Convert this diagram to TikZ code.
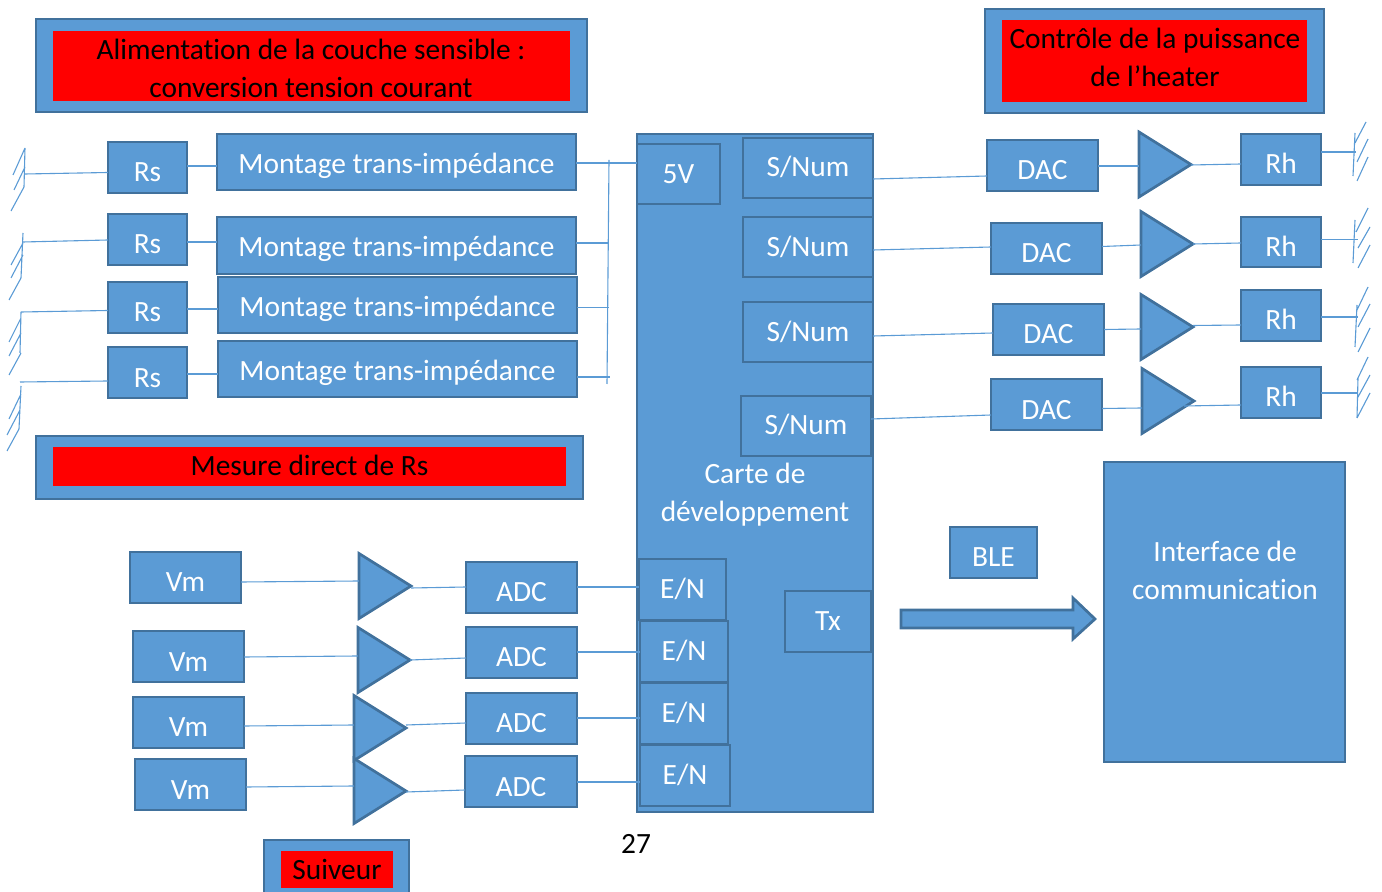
\documentclass[tikz,border=0pt]{standalone}
\usepackage{fontspec}
\setmainfont[Ligatures=CommonOff]{Carlito}
\usetikzlibrary{shapes.geometric,shapes.arrows}
\definecolor{bfill}{HTML}{5B9BD5}
\definecolor{bedge}{HTML}{41719C}
\tikzset{
  x=0.5pt,y=-0.5pt,
  box/.style={draw=bedge,fill=bfill,line width=1.35pt,inner sep=0pt,outer sep=0pt,text=white,font=\fontsize{14.7}{19}\selectfont},
  redbox/.style={fill=red,draw=none,inner sep=0pt,outer sep=0pt,text=black,font=\fontsize{14.7}{19}\selectfont},
  wire/.style={draw=bfill,line width=0.55pt},
  tri/.style={isosceles triangle,isosceles triangle stretches,shape border rotate=0,draw=bedge,fill=bfill,line width=1.35pt,inner sep=0pt,outer sep=0pt,anchor=west,minimum height=52pt/2,minimum width=65pt/2},
  label/.style={inner sep=0pt,outer sep=0pt,align=center,font=\fontsize{14.7}{19}\selectfont},
}
% name, x1,y1,x2,y2, text centre y, text, style
\newcommand\bx[8][box]{%
  \pgfmathsetmacro\cxx{(#3+#5)/2}\pgfmathsetmacro\cyy{(#4+#6)/2}%
  \pgfmathsetmacro\wdd{(#5-#3)*0.5}\pgfmathsetmacro\htt{(#6-#4)*0.5}%
  \pgfmathsetmacro\rse{(#7+9.5-(#4+#6)/2)*0.5}%
  \node[#1,minimum width=\wdd pt,minimum height=\htt pt] (#2) at (\cxx,\cyy) {\raisebox{-\rse pt}[0pt][0pt]{#8}};}
\newcommand\lnk[4]{\draw[wire] (#1.east |- 0,#2) -- (#3.west |- 0,#4);}
\newcommand\gnd[1]{\draw[wire] #1;}
\begin{document}
\begin{tikzpicture}
\useasboundingbox (0,0) rectangle (1382,892);
% banners
\bx{oa}{36}{19}{587}{112}{60}{}
\bx[redbox]{ra}{53}{31}{570}{101}{60}{}
\node[label] (ta) at (311,68.5) {Alimentation de la couche sensible :\\conversion tension courant};
\bx{ob}{985}{9}{1324}{113}{60}{}
\bx[redbox]{rb}{1002}{20}{1307}{102}{60}{}
\node[label] (tb) at (1155,57.5) {Contrôle de la puissance\\de l’heater};
\bx{oc}{36}{436}{583}{499}{466}{}
\bx[redbox]{rc}{53}{447}{566}{486}{466}{Mesure direct de Rs}
\bx{od}{264}{840}{409}{900}{870}{}
\bx[redbox]{rd}{281}{851}{393}{888}{870}{Suiveur}
% board
\bx{carte}{637}{134}{873}{812}{470}{}
\node[label,text=white] (tcarte) at (755,494.5) {Carte de\\développement};
\bx{fiveV}{637}{144}{720}{204}{174}{5V}
\bx{sa}{743}{138}{873}{198}{167}{S/Num}
\bx{sb}{743}{217}{873}{277}{247}{S/Num}
\bx{sc}{743}{302}{873}{362}{332}{S/Num}
\bx{sd}{741}{396}{871}{456}{425}{S/Num}
\bx{tx}{785}{591}{871}{652}{621}{Tx}
\bx{ea}{639}{559}{726}{620}{589}{E/N}
\bx{eb}{640}{621}{728}{682}{651}{E/N}
\bx{ec}{640}{683}{728}{744}{713}{E/N}
\bx{ed}{640}{745}{730}{806}{775}{E/N}
% Rs chain
\bx{rsa}{108}{142}{187}{193}{172}{Rs}
\bx{rsb}{108}{214}{187}{265}{244}{Rs}
\bx{rsc}{108}{282}{187}{333}{312}{Rs}
\bx{rsd}{108}{347}{187}{398}{378}{Rs}
\bx{ma}{217}{134}{576}{190}{164}{Montage trans-impédance}
\bx{mb}{217}{217}{576}{274}{247}{Montage trans-impédance}
\bx{mc}{218}{277}{577}{333}{307}{Montage trans-impédance}
\bx{md}{218}{341}{577}{397}{371}{Montage trans-impédance}
\lnk{rsa}{166}{ma}{166}
\lnk{rsb}{242}{mb}{242}
\lnk{rsc}{309}{mc}{309}
\lnk{rsd}{374}{md}{374}
\coordinate (bustop) at (609,160);
\coordinate (busbot) at (607,384);
\draw[wire] (bustop) -- (busbot);
\draw[wire] (ma.east |- 0,163) -- (fiveV.west |- 0,163);
\coordinate (busb) at (609,243);
\coordinate (busc) at (609,307.5);
\coordinate (busd) at (610,377);
\draw[wire] (mb.east |- busb) -- (busb);
\draw[wire] (mc.east |- busc) -- (busc);
\draw[wire] (md.east |- busd) -- (busd);
% left grounds
\coordinate (gla) at (25,174);
\coordinate (glb) at (23,242);
\coordinate (glc) at (21,312);
\coordinate (gld) at (20,382);
\draw[wire] (rsa.west |- 0,172.5) -- (gla);
\draw[wire] (rsb.west |- 0,240) -- (glb);
\draw[wire] (rsc.west |- 0,310.5) -- (glc);
\draw[wire] (rsd.west |- 0,381) -- (gld);
\gnd{(25,148)--(24,187) (25,148)--(13,175) (25,167)--(14,190) (24,187)--(11,211)}
\gnd{(23,233)--(21,278) (23,243)--(11,265) (23,255)--(11,278) (21,278)--(9,300)}
\gnd{(21,312)--(20,353) (21,318)--(9,342) (21,333)--(9,356) (21,353)--(9,375)}
\gnd{(21,386)--(19,429) (21,394)--(9,419) (20,410)--(7,435) (19,429)--(7,451)}
% DAC chain
\bx{da}{987}{140}{1098}{191}{170}{DAC}
\bx{db}{991}{223}{1102}{274}{253}{DAC}
\bx{dc}{993}{304}{1104}{355}{334}{DAC}
\bx{dd}{991}{379}{1102}{430}{410}{DAC}
\node[tri] (ta1) at (1139,164.5) {};
\node[tri] (ta2) at (1141,244) {};
\node[tri] (ta3) at (1141,327) {};
\node[tri] (ta4) at (1142,401) {};
\bx{ha}{1241}{134}{1321}{185}{164}{Rh}
\bx{hb}{1241}{217}{1321}{267}{247}{Rh}
\bx{hc}{1241}{290}{1321}{341}{320}{Rh}
\bx{hd}{1241}{367}{1321}{418}{397}{Rh}
\lnk{sa}{179}{da}{176}
\lnk{sb}{250}{db}{247}
\lnk{sc}{336}{dc}{333}
\lnk{sd}{419}{dd}{415}
\draw[wire] (da.east |- 0,166) -- (ta1.west |- 0,166);
\draw[wire] (db.east |- 0,246.5) -- (ta2.west |- 0,245);
\draw[wire] (dc.east |- 0,329.5) -- (ta3.west |- 0,329);
\draw[wire] (dd.east |- 0,408.5) -- (ta4.west |- 0,408);
\draw[wire] (ta1.apex |- 0,165) -- (ha.west |- 0,164);
\draw[wire] (ta2.apex |- 0,244) -- (hb.west |- 0,243);
\draw[wire] (ta3.apex |- 0,325.5) -- (hc.west |- 0,325);
\coordinate (tfour) at (1184,406);
\draw[wire] (tfour) -- (hd.west |- 0,405);
% right grounds
\coordinate (gra) at (1356,152);
\coordinate (grb) at (1358,239.5);
\coordinate (grc) at (1358,317);
\coordinate (grd) at (1357,393);
\draw[wire] (ha.east |- gra) -- (gra);
\draw[wire] (hb.east |- grb) -- (grb);
\draw[wire] (hc.east |- grc) -- (grc);
\draw[wire] (hd.east |- grd) -- (grd);
\gnd{(1355,133)--(1353,176) (1366,122)--(1355,143) (1368,139)--(1357,162) (1368,157)--(1357,181)}
\gnd{(1355,220)--(1353,263) (1368,208)--(1356,232) (1370,227)--(1358,248) (1370,245)--(1358,268)}
\gnd{(1357,305)--(1355,347) (1368,287)--(1357,310) (1370,304)--(1358,327) (1370,328)--(1358,352)}
\gnd{(1358,378)--(1357,418) (1368,357)--(1357,380) (1370,375)--(1358,397) (1370,393)--(1357,418)}
% interface
\bx{iface}{1104}{462}{1345}{762}{470}{}
\node[label,text=white] (tiface) at (1225,570.5) {Interface de\\communication};
\bx{ble}{950}{527}{1037}{578}{557}{BLE}
\draw[draw=bedge,fill=bfill,line width=1.35pt] (901,610) -- (1073,610) -- (1073,598) -- (1095,619) -- (1073,639) -- (1073,628) -- (901,628) -- cycle;
% Vm chain
\bx{va}{130}{552}{241}{603}{582}{Vm}
\bx{vb}{133}{631}{244}{682}{662}{Vm}
\bx{vc}{133}{697}{244}{748}{727}{Vm}
\bx{vd}{135}{759}{246}{810}{790}{Vm}
\node[tri] (tb1) at (359,586) {};
\node[tri] (tb2) at (358,660) {};
\node[tri] (tb3) at (354,728) {};
\node[tri] (tb4) at (354,791) {};
\bx{aa}{466}{562}{577}{613}{592}{ADC}
\bx{ab}{466}{627}{577}{678}{657}{ADC}
\bx{ac}{466}{693}{577}{744}{723}{ADC}
\bx{ad}{465}{756}{577}{807}{787}{ADC}
\draw[wire] (va.east |- 0,582) -- (tb1.west |- 0,581);
\draw[wire] (vb.east |- 0,657) -- (tb2.west |- 0,656);
\draw[wire] (vc.east |- 0,726) -- (tb3.west |- 0,725);
\draw[wire] (vd.east |- 0,787) -- (tb4.west |- 0,786);
\draw[wire] (tb1.apex |- 0,588) -- (aa.west |- 0,587);
\draw[wire] (tb2.apex |- 0,660) -- (ab.west |- 0,658);
\draw[wire] (tb3.apex |- 0,725) -- (ac.west |- 0,723);
\draw[wire] (tb4.apex |- 0,792) -- (ad.west |- 0,790);
\lnk{aa}{587}{ea}{587}
\lnk{ab}{652}{eb}{652}
\lnk{ac}{718}{ec}{718}
\lnk{ad}{782}{ed}{782}
\node[label] (page) at (636,844) {27};
\end{tikzpicture}
\end{document}
